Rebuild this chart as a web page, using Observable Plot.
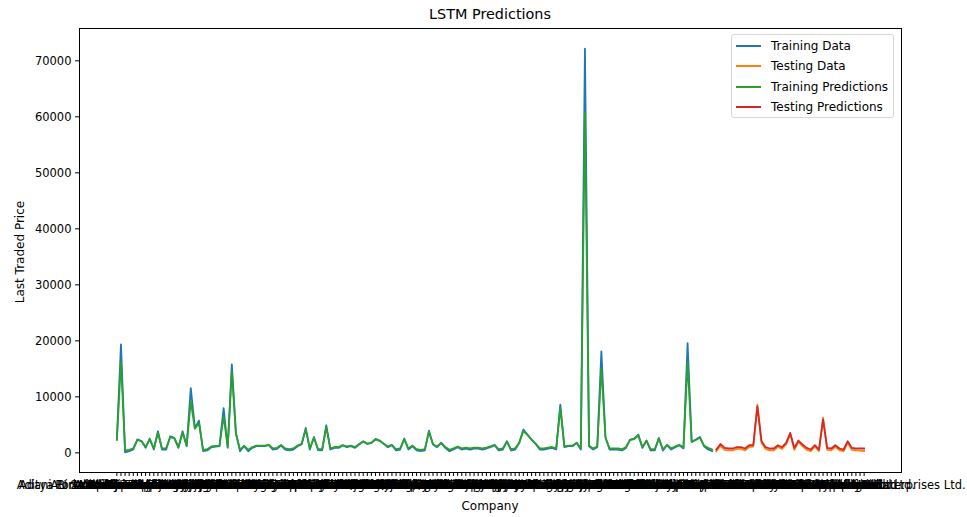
<!DOCTYPE html>
<html>
<head>
<meta charset="utf-8">
<script src="https://cdn.jsdelivr.net/npm/d3@7"></script>
<script src="https://cdn.jsdelivr.net/npm/@observablehq/plot@0.6"></script>
<style>
  body { margin: 0; background: #fff; font-family: "DejaVu Sans", sans-serif; }
  #wrap { position: relative; width: 967px; height: 517px; overflow: hidden; background: #fff; }
  #wrap svg { position: absolute; left: 0; top: 0; }
  .lbl { position: absolute; white-space: nowrap; color: #000; line-height: 1; }
  #title { left: 490px; top: 14px; transform: translate(-50%, -50%); font-size: 14.4px; }
  #xlabel { left: 490px; top: 506px; transform: translate(-50%, -50%); font-size: 12px; }
  #ylabel { left: 20px; top: 252px; transform: translate(-50%, -50%) rotate(-90deg); font-size: 12px; }
  #legend { position: absolute; left: 731px; top: 34px; width: 163px; height: 84px;
            border: 1px solid #d6d6d6; border-radius: 3px; background: rgba(255,255,255,0.85); box-sizing: border-box; }
  .row { position: absolute; left: 0; height: 14px; display: flex; align-items: center; font-size: 12px; white-space: nowrap; }
  .row .sw { width: 25px; height: 2px; margin-left: 4px; margin-right: 10px; }
</style>
</head>
<body>
<div id="wrap">
  <div id="title" class="lbl">LSTM Predictions</div>
  <div id="xlabel" class="lbl">Company</div>
  <div id="ylabel" class="lbl">Last Traded Price</div>
  <div id="legend"></div>
</div>
<script>
// ---- data ----
const companies = [
  "Aditya Birla Fashion and Retail Ltd.","ACC Ltd.","Abbott India Ltd.","AU Small Finance Bank Ltd.","Aarti Industries Ltd.",
  "Adani Enterprises Ltd.","Adani Green Energy Ltd.","Adani Ports and Special Economic Zone Ltd.","Adani Total Gas Ltd.","Adani Transmission Ltd.",
  "Aditya Birla Capital Ltd.","Ajanta Pharma Ltd.","Alembic Pharmaceuticals Ltd.","Alkem Laboratories Ltd.","Ambuja Cements Ltd.",
  "Apollo Hospitals Enterprise Ltd.","Apollo Tyres Ltd.","Ashok Leyland Ltd.","Asian Paints Ltd.","Astral Ltd.",
  "Atul Ltd.","Aurobindo Pharma Ltd.","Avenue Supermarts Ltd.","Axis Bank Ltd.","Bajaj Auto Ltd.",
  "Bajaj Finance Ltd.","Bajaj Finserv Ltd.","Bajaj Holdings & Investment Ltd.","Balkrishna Industries Ltd.","Bandhan Bank Ltd.",
  "Bank of Baroda","Bank of India","Bata India Ltd.","Berger Paints India Ltd.","Bharat Electronics Ltd.",
  "Bharat Forge Ltd.","Bharat Heavy Electricals Ltd.","Bharat Petroleum Corporation Ltd.","Bharti Airtel Ltd.","Biocon Ltd.",
  "Blue Dart Express Ltd.","Bosch Ltd.","Britannia Industries Ltd.","Canara Bank","Castrol India Ltd.",
  "CG Power and Industrial Solutions Ltd.","Cholamandalam Investment and Finance Company Ltd.","Cipla Ltd.","City Union Bank Ltd.","Coal India Ltd.",
  "Coforge Ltd.","Colgate Palmolive (India) Ltd.","Container Corporation of India Ltd.","Crompton Greaves Consumer Electricals Ltd.","Cummins India Ltd.",
  "Dabur India Ltd.","Dalmia Bharat Ltd.","Deepak Nitrite Ltd.","Divi's Laboratories Ltd.","Dixon Technologies (India) Ltd.",
  "DLF Ltd.","Dr. Reddy's Laboratories Ltd.","Eicher Motors Ltd.","Emami Ltd.","Escorts Kubota Ltd.",
  "Exide Industries Ltd.","Federal Bank Ltd.","FSN E-Commerce Ventures Ltd.","GAIL (India) Ltd.","Gland Pharma Ltd.",
  "Glenmark Pharmaceuticals Ltd.","Godrej Consumer Products Ltd.","Godrej Properties Ltd.","Grasim Industries Ltd.","Gujarat Gas Ltd.",
  "Hatsun Agro Product Ltd.","Havells India Ltd.","HCL Technologies Ltd.","HDFC Asset Management Company Ltd.","HDFC Bank Ltd.",
  "HDFC Life Insurance Company Ltd.","Hero MotoCorp Ltd.","Hindalco Industries Ltd.","Hindustan Aeronautics Ltd.","Hindustan Petroleum Corporation Ltd.",
  "Hindustan Unilever Ltd.","Housing Development Finance Corporation Ltd.","ICICI Bank Ltd.","ICICI Lombard General Insurance Company Ltd.","ICICI Prudential Life Insurance Company Ltd.",
  "IDFC First Bank Ltd.","Indian Hotels Co. Ltd.","Indian Oil Corporation Ltd.","Indian Railway Catering And Tourism Corporation Ltd.","Indraprastha Gas Ltd.",
  "Indus Towers Ltd.","IndusInd Bank Ltd.","Info Edge (India) Ltd.","Infosys Ltd.","InterGlobe Aviation Ltd.",
  "IPCA Laboratories Ltd.","ITC Ltd.","Jindal Steel & Power Ltd.","JSW Energy Ltd.","JSW Steel Ltd.",
  "Jubilant Foodworks Ltd.","Kajaria Ceramics Ltd.","Kotak Mahindra Bank Ltd.","L&T Finance Holdings Ltd.","L&T Technology Services Ltd.",
  "Larsen & Toubro Ltd.","Larsen & Toubro Infotech Ltd.","LIC Housing Finance Ltd.","Lupin Ltd.","Mahindra & Mahindra Ltd.",
  "Mahindra & Mahindra Financial Services Ltd.","Marico Ltd.","Maruti Suzuki India Ltd.","Max Financial Services Ltd.","Max Healthcare Institute Ltd.",
  "Mindtree Ltd.","Mphasis Ltd.","MRF Ltd.","Muthoot Finance Ltd.","Navin Fluorine International Ltd.",
  "Nestle India Ltd.","NHPC Ltd.","NMDC Ltd.","NTPC Ltd.","Oberoi Realty Ltd.",
  "Oil & Natural Gas Corporation Ltd.","Oil India Ltd.","One 97 Communications Ltd.","Oracle Financial Services Software Ltd.","Page Industries Ltd.",
  "Persistent Systems Ltd.","Petronet LNG Ltd.","PI Industries Ltd.","Pidilite Industries Ltd.","Power Finance Corporation Ltd.",
  "Power Grid Corporation of India Ltd.","Punjab National Bank","REC Ltd.","Reliance Industries Ltd.","SBI Cards and Payment Services Ltd.",
  "SBI Life Insurance Company Ltd.","Shree Cement Ltd.","Shriram Finance Ltd.","Siemens Ltd.","Solar Industries India Ltd.",
  "SRF Ltd.","State Bank of India","Sun Pharmaceutical Industries Ltd.","Sun TV Network Ltd.","Sundaram Finance Ltd.",
  "Supreme Industries Ltd.","Tata Chemicals Ltd.","Tata Communications Ltd.","Tata Consultancy Services Ltd.","Tata Consumer Products Ltd.",
  "Tata Elxsi Ltd.","Tata Motors Ltd.","Tata Power Co. Ltd.","Tata Steel Ltd.","Tech Mahindra Ltd.",
  "The Ramco Cements Ltd.","Titan Company Ltd.","Torrent Pharmaceuticals Ltd.","Torrent Power Ltd.","Trent Ltd.",
  "TVS Motor Company Ltd.","UltraTech Cement Ltd.","Union Bank of India","United Breweries Ltd.","United Spirits Ltd.",
  "UPL Ltd.","Varun Beverages Ltd.","Vedanta Ltd.","Voltas Ltd.","Whirlpool of India Ltd.",
  "Wipro Ltd.","Zomato Ltd.","Zee Entertainment Enterprises Ltd."
];

const trainData = [
  2440,19390,100,300,600,2400,2100,900,2560,600,
  3860,600,600,2970,2670,890,3860,1190,11560,4450,
  5760,300,430,1000,1100,1190,8000,890,15800,3560,
  300,1190,300,890,1190,1190,1190,1370,600,710,
  1310,600,430,600,1190,1500,4450,600,2850,480,
  430,4930,600,890,890,1310,1010,1190,890,1490,
  2080,1600,1780,2490,2200,1600,1010,1370,430,600,
  2560,600,1190,430,300,430,3980,1490,1010,1780,
  890,300,600,1010,600,780,600,780,780,600,
  780,1010,1370,430,600,2080,430,600,1780,4160,
  3270,2380,1600,600,600,780,890,600,8610,1010,
  1190,1190,1780,600,72170,1190,600,1010,18100,2800,
  600,600,600,430,890,2380,2560,3270,890,2200,
  430,430,2670,430,1370,600,1010,1370,780,19570,
  1960,2380,2850,1190,600,300
];

const trainPred = [
  2300,16300,450,550,800,2300,2100,1100,2400,800,
  3600,800,800,2800,2600,1050,3600,1300,9200,4300,
  5300,550,650,1150,1250,1300,6500,1050,14500,3400,
  550,1300,550,1050,1300,1300,1300,1450,800,900,
  1400,800,650,800,1300,1600,4200,800,2700,700,
  650,4600,800,1050,1050,1400,1150,1300,1050,1600,
  2000,1650,1800,2400,2150,1650,1150,1450,650,800,
  2450,800,1300,650,550,650,3700,1550,1150,1800,
  1050,550,800,1150,800,950,800,950,950,800,
  950,1150,1450,650,800,2000,650,800,1800,3900,
  3200,2350,1650,800,800,950,1050,800,8000,1150,
  1300,1300,1800,800,60800,1300,800,1150,15100,2700,
  800,800,800,650,1050,2300,2450,3100,1050,2150,
  650,650,2550,650,1450,800,1150,1450,950,16200,
  1950,2300,2700,1300,900,600
];

const testData = [
  300,1300,550,450,450,700,700,450,1050,1100,
  8600,1800,700,450,450,1100,700,1500,3350,550,
  1950,1200,550,300,1100,300,6300,550,450,1100,
  450,300,1800,550,450,400,350
];

const testPred = [
  600,1600,890,780,780,1010,1010,780,1370,1370,
  8300,2080,1010,780,780,1370,1010,1780,3560,890,
  2200,1490,890,600,1370,600,5940,890,780,1370,
  780,600,2080,890,780,780,780
];

const yTicks = [0, 10000, 20000, 30000, 40000, 50000, 60000, 70000];

const seriesNames = ["Training Data", "Testing Data", "Training Predictions", "Testing Predictions"];
const seriesColors = ["#1f77b4", "#ff7f0e", "#2ca02c", "#d62728"];

// ---- tables ----
const nTrain = trainData.length;
const trainRows = trainData.map((v, i) => ({i, v}));
const trainPredRows = trainPred.map((v, i) => ({i, v}));
const testRows = testData.map((v, i) => ({i: nTrain + i, v}));
const testPredRows = testPred.map((v, i) => ({i: nTrain + i, v}));

const N = nTrain + testData.length;
const xDomain = [-(N - 1) * 0.05, (N - 1) * 1.05];
const [lo, hi] = d3.extent([...trainData, ...testData, ...trainPred, ...testPred]);
const pad = (hi - lo) * 0.05;

const lineOpts = (c) => ({x: "i", y: "v", stroke: c, strokeWidth: 1.8, strokeLinejoin: "round", strokeLinecap: "square"});

const chart = Plot.plot({
  width: 967,
  height: 517,
  marginLeft: 79,
  marginRight: 66,
  marginTop: 28,
  marginBottom: 45,
  style: {fontFamily: '"DejaVu Sans", sans-serif', fontSize: "12px", color: "black", background: "transparent"},
  x: {type: "linear", domain: xDomain},
  y: {type: "linear", domain: [lo - pad, hi + pad]},
  marks: [
    Plot.line(trainRows, lineOpts(seriesColors[0])),
    Plot.line(testRows, lineOpts(seriesColors[1])),
    Plot.line(trainPredRows, lineOpts(seriesColors[2])),
    Plot.line(testPredRows, lineOpts(seriesColors[3])),
    Plot.frame({stroke: "black", strokeWidth: 1}),
    Plot.axisX(d3.range(companies.length), {
      tickFormat: (i) => companies[i], tickSize: 4, tickPadding: 4, label: null, fontSize: 11.5, fill: "black"
    }),
    Plot.axisY(yTicks, {
      tickFormat: d3.format("d"), tickSize: 4, tickPadding: 4, label: null, fontSize: 11.5, fill: "black"
    })
  ]
});

document.getElementById("wrap").prepend(chart);

// legend
const legend = document.getElementById("legend");
seriesNames.forEach((name, k) => {
  const row = document.createElement("div");
  row.className = "row";
  row.style.top = (3.5 + k * 20.6) + "px";
  const sw = document.createElement("span");
  sw.className = "sw";
  sw.style.background = seriesColors[k];
  const tx = document.createElement("span");
  tx.textContent = name;
  row.appendChild(sw);
  row.appendChild(tx);
  legend.appendChild(row);
});
</script>
</body>
</html>
